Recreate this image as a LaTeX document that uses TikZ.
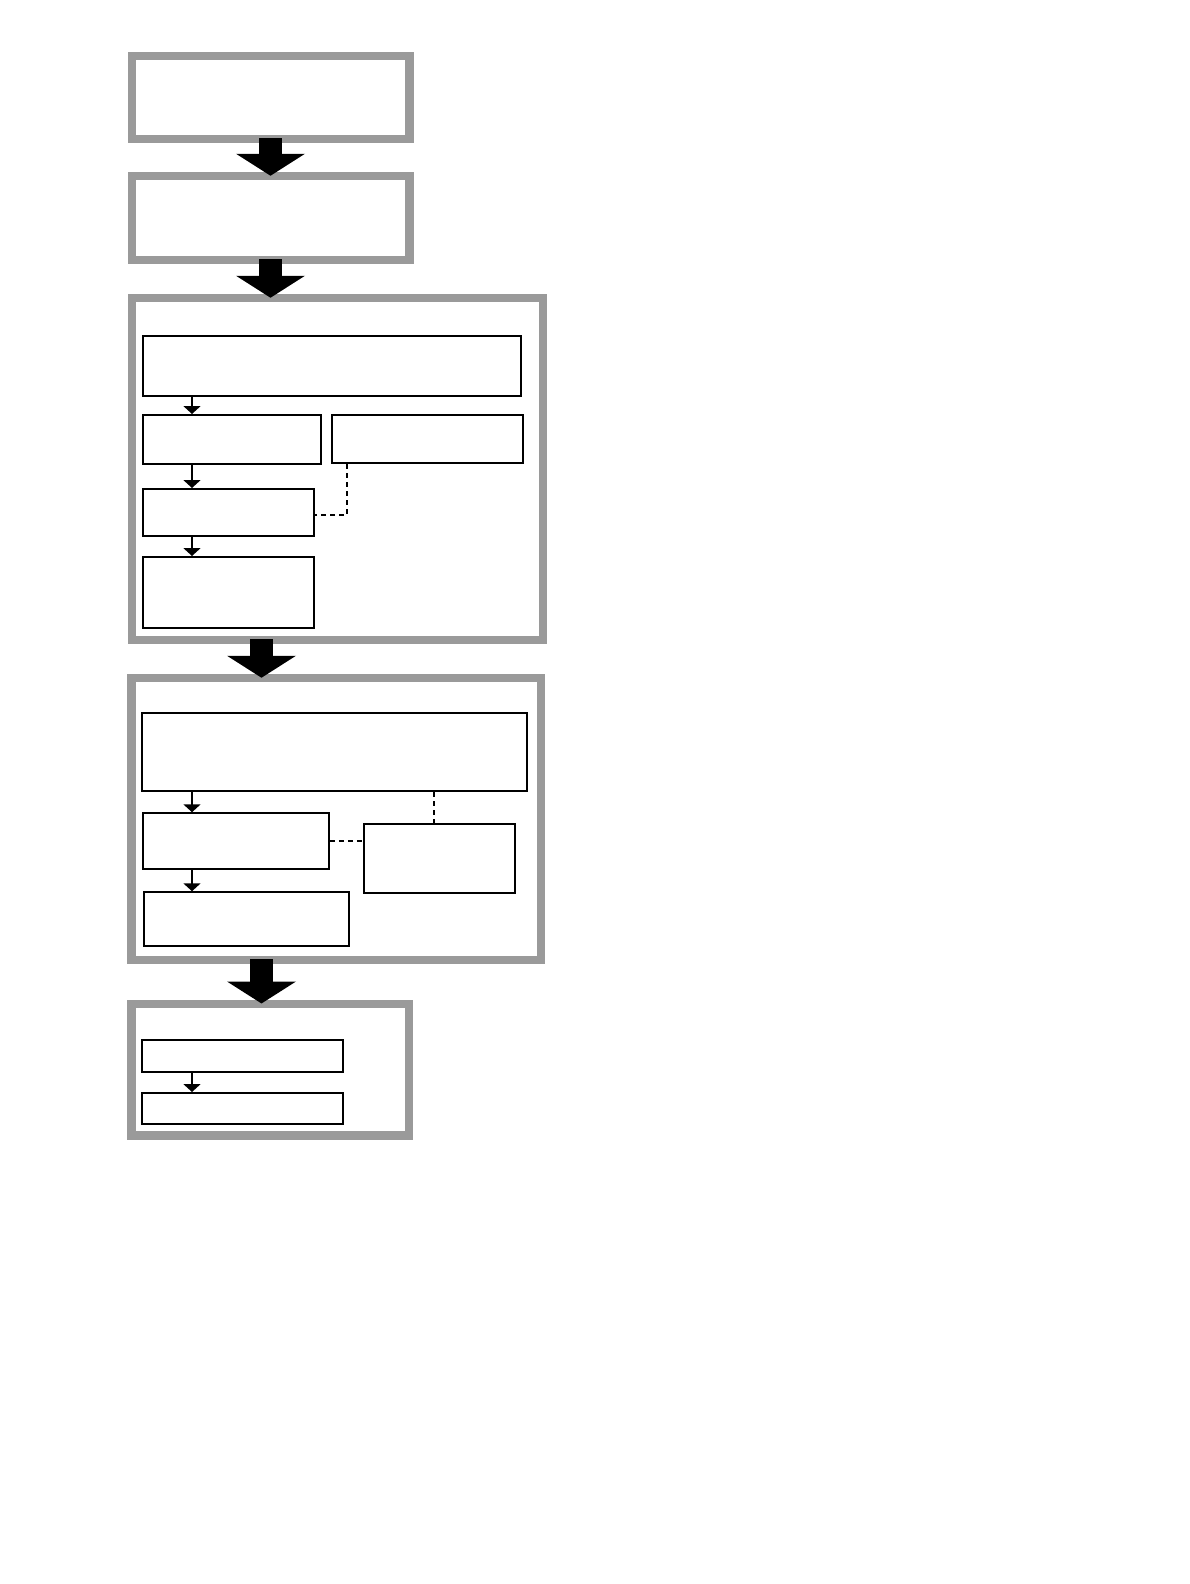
\documentclass[tikz,border=0pt]{standalone}
\usetikzlibrary{arrows.meta,calc}
\definecolor{boxgray}{HTML}{9A9A9A}
\begin{document}
\begin{tikzpicture}[x=1pt,y=-1pt,
  graybox/.style={draw=boxgray,line width=8.5pt,fill=white,inner sep=0pt},
  thinbox/.style={draw=black,line width=2pt,fill=white,inner sep=0pt},
  bigarrow/.style={line width=23pt,-{Triangle[width=68pt,length=22pt]}},
  smallarrow/.style={line width=2pt,-{Triangle[width=17pt,length=8pt]}},
  dashlink/.style={line width=1.5pt,dash pattern=on 5pt off 4pt}]
\useasboundingbox[fill=white] (0,0) rectangle (1190,1584);
% gray frames
\node[graybox,minimum width=277.5pt,minimum height=83pt] (A) at (270.75,97.5) {};
\node[graybox,minimum width=277.5pt,minimum height=84pt] (B) at (270.75,218) {};
\node[graybox,minimum width=411pt,minimum height=342pt] (C) at (337.5,469) {};
\node[graybox,minimum width=409.5pt,minimum height=282pt] (D) at (336.25,819) {};
\node[graybox,minimum width=277.5pt,minimum height=131.5pt] (E) at (270.25,1069.5) {};
% inner boxes of C
\node[thinbox,minimum width=378pt,minimum height=60pt] (C1) at (332,366) {};
\node[thinbox,minimum width=177.5pt,minimum height=49pt] (C2) at (232,439.5) {};
\node[thinbox,minimum width=191pt,minimum height=48pt] (C3) at (427,439) {};
\node[thinbox,minimum width=171pt,minimum height=47pt] (C4) at (228.5,512.5) {};
\node[thinbox,minimum width=171pt,minimum height=71pt] (C5) at (228.5,592.5) {};
% inner boxes of D
\node[thinbox,minimum width=384.5pt,minimum height=78pt] (D1) at (334.5,752) {};
\node[thinbox,minimum width=185.5pt,minimum height=55.5pt] (D2) at (236,841) {};
\node[thinbox,minimum width=150.5pt,minimum height=69pt] (D3) at (439.5,858.5) {};
\node[thinbox,minimum width=205pt,minimum height=53.5pt] (D4) at (246.5,919) {};
% inner boxes of E
\node[thinbox,minimum width=200.5pt,minimum height=31.5pt] (E1) at (242.5,1056) {};
\node[thinbox,minimum width=200.5pt,minimum height=31pt] (E2) at (242.5,1108.5) {};
% columns
\coordinate (colA) at (270.5,0);
\coordinate (colB) at (261.5,0);
\coordinate (col) at (192,0);
% big arrows
\draw[bigarrow] ([yshift=5pt]A.south -| colA) -- ([yshift=-4pt]B.north -| colA);
\draw[bigarrow] ([yshift=5pt]B.south -| colA) -- ([yshift=-4pt]C.north -| colA);
\draw[bigarrow] ([yshift=5pt]C.south -| colB) -- ([yshift=-4pt]D.north -| colB);
\draw[bigarrow] ([yshift=5pt]D.south -| colB) -- ([yshift=-4pt]E.north -| colB);
% small arrows
\draw[smallarrow] (C1.south -| col) -- (C2.north -| col);
\draw[smallarrow] (C2.south -| col) -- (C4.north -| col);
\draw[smallarrow] (C4.south -| col) -- (C5.north -| col);
\draw[smallarrow] (D1.south -| col) -- (D2.north -| col);
\draw[smallarrow] (D2.south -| col) -- (D4.north -| col);
\draw[smallarrow] (E1.south -| col) -- (E2.north -| col);
% dashed links
\coordinate (k1) at (347,515);
\draw[dashlink] (C3.south -| k1) -- (k1) -- (C4.east |- k1);
\coordinate (k2) at (434,0);
\draw[dashlink] (D1.south -| k2) -- (D3.north -| k2);
\draw[dashlink] (D2.east) -- (D3.west |- D2.east);
\end{tikzpicture}
\end{document}
